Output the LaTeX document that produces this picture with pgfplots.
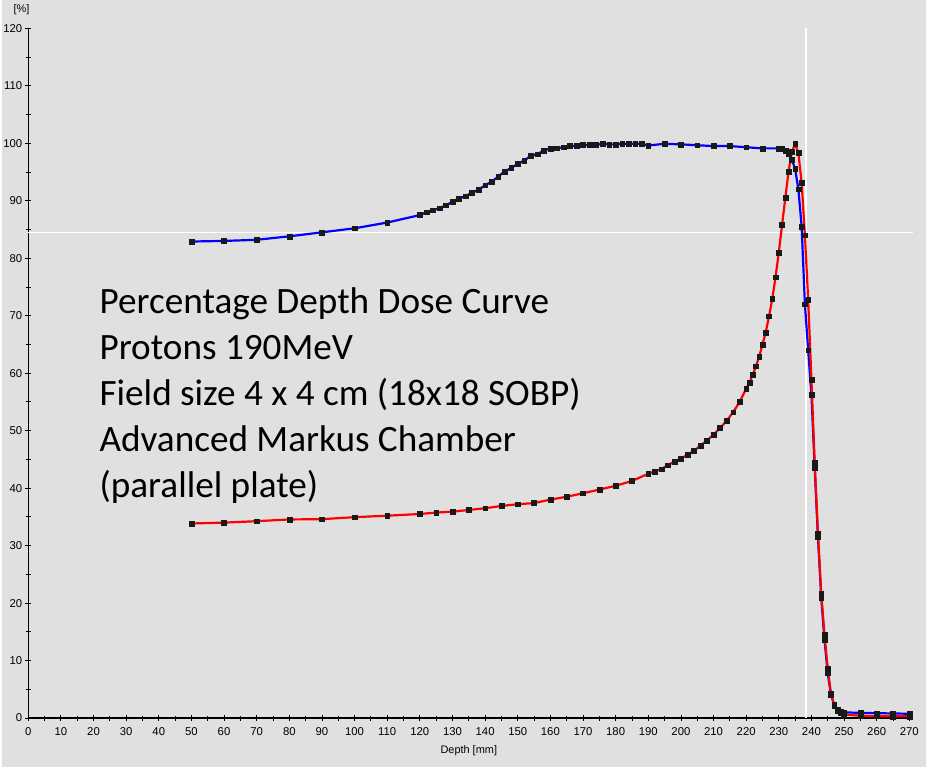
\documentclass[border=0pt]{standalone}
\usepackage{pgfplots}
\pgfplotsset{compat=1.18}
\usepackage{pgfplotstable}
\usepackage{fontspec}
\setmainfont{Liberation Sans}
\newfontfamily\calibri{Carlito}
\definecolor{bgc}{RGB}{224,224,224}
\definecolor{cblue}{RGB}{0,0,255}
\definecolor{cred}{RGB}{255,0,0}

\pgfplotstableread{
x y
50 82.9
60 83.0
70 83.2
80 83.8
90 84.5
100 85.2
110 86.2
120 87.5
122 88.0
124 88.35
126 88.7
128 89.2
130 89.8
132 90.4
134 90.8
136 91.4
138 91.9
140 92.7
142 93.3
144 94.2
146 95.1
148 95.7
150 96.4
152 97.0
154 97.8
156 98.1
158 98.7
160 99.1
162 99.15
164 99.3
166 99.5
168 99.5
170 99.7
172 99.7
174 99.7
176 99.9
178 99.8
180 99.8
182 99.9
184 99.9
186 99.9
188 99.9
190 99.6
195 99.9
200 99.8
205 99.65
210 99.5
215 99.5
220 99.3
225 99.1
230 99.1
231 99.0
232 98.7
233 98.1
234 97.2
235 95.5
236 92.0
237 85.5
238 72.0
239 64.0
240 56.3
241 43.5
242 31.5
243 21.0
244 13.6
245 7.8
246 4.0
247 2.3
248 1.5
249 1.2
250 1.0
255 0.9
260 0.85
265 0.8
270 0.75
}\sobp

\pgfplotstableread{
x y
50 33.85
60 34.0
70 34.25
80 34.55
90 34.6
100 34.95
110 35.2
120 35.5
125 35.75
130 35.9
135 36.2
140 36.5
145 36.9
150 37.2
155 37.4
160 38.0
165 38.5
170 39.1
175 39.75
180 40.4
185 41.25
190 42.5
192 42.9
194 43.3
196 44.0
198 44.6
200 45.1
202 45.8
204 46.5
206 47.4
208 48.3
210 49.3
212 50.45
214 51.7
216 53.2
218 55.0
220 57.3
221 58.4
222 59.7
223 61.2
224 62.9
225 65.0
226 67.1
227 69.9
228 72.9
229 76.7
230 81.0
231 85.8
232 90.5
233 95.1
234 98.5
235 99.9
236 98.3
237 93.1
238 84.0
239 72.8
240 58.8
241 44.4
242 32.1
243 21.7
244 14.5
245 8.6
246 4.2
247 2.2
248 1.3
249 0.9
250 0.6
255 0.4
260 0.35
265 0.3
270 0.3
}\bragg

\begin{document}
\begin{tikzpicture}
\fill[bgc] (-26.7bp,-48.7bp) rectangle (899.3bp,719.3bp);
\begin{axis}[
  at={(0,0)}, anchor=south west,
  scale only axis, width=882.6bp, height=691bp,
  xmin=0, xmax=270, ymin=0, ymax=120,
  axis x line*=bottom, axis y line*=left,
  axis line style={line width=1.3bp, -},
  xtick={0,10,...,270}, minor x tick num=1,
  ytick={0,10,...,120}, minor y tick num=1,
  tick align=center, major tick length=6bp, minor tick length=5bp,
  tick style={black, line width=0.8bp},
  /pgf/number format/assume math mode=true,
  tick label style={font=\fontsize{11.4}{13}\selectfont},
  xticklabel style={yshift=-3bp},
  yticklabel style={xshift=0.5bp},
  xlabel={Depth [mm]},
  xlabel style={font=\fontsize{11}{13}\selectfont, at={(axis description cs:0.5,0)}, anchor=center, yshift=-33bp},
  clip=false,
]
\draw[white, line width=1.5bp] (axis cs:238.3,0) -- (axis cs:238.3,120);
\draw[white, line width=1.5bp] (axis cs:0,84.5) -- (axis cs:271,84.5);
\addplot[cblue, line width=2.2bp, no markers] table {\sobp};
\addplot[cred, line width=2.2bp, no markers] table {\bragg};
\addplot[only marks, mark=square*, mark size=2.4bp, mark options={fill=black!90, draw=black!90}] table {\sobp};
\addplot[only marks, mark=square*, mark size=2.4bp, mark options={fill=black!90, draw=black!90}] table {\bragg};
\end{axis}
\node[font=\fontsize{11}{13}\selectfont] at (-6.7bp,709.3bp) {[\%]};
\begin{scope}[every node/.style={anchor=base west, inner sep=0pt, font=\calibri\fontsize{37.4}{44}\selectfont}]
\node at (71.3bp,405.3bp) {Percentage Depth Dose Curve};
\node at (71.3bp,359.3bp) {Protons 190MeV};
\node at (71.3bp,313.3bp) {Field size 4 x 4 cm (18x18 SOBP)};
\node at (71.3bp,267.3bp) {Advanced Markus Chamber};
\node at (71.3bp,221.3bp) {(parallel plate)};
\end{scope}
\end{tikzpicture}
\end{document}
